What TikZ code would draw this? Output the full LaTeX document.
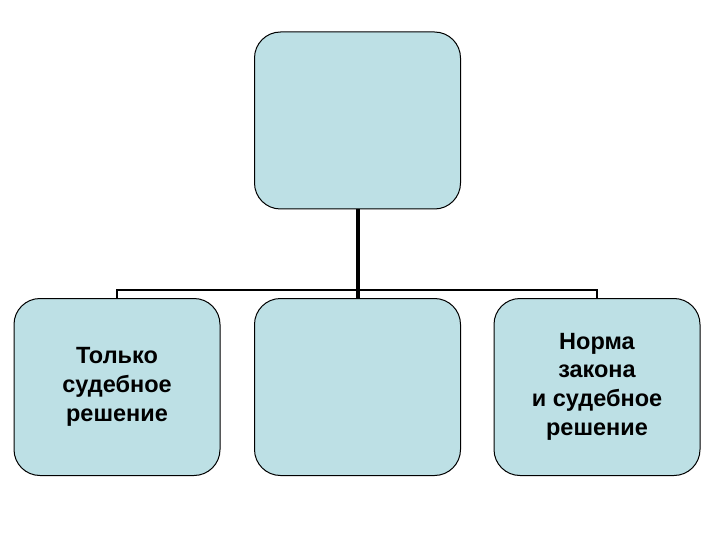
\documentclass[tikz,border=0pt]{standalone}
\usepackage{fontspec}
\setmainfont{Liberation Sans}
\begin{document}
\begin{tikzpicture}[x=1pt,y=-1pt,
  box/.style={draw=black,line width=1pt,fill=boxfill,rounded corners=26pt,minimum width=206pt,minimum height=177pt,inner sep=0pt,align=center,font=\fontsize{23.5}{28.7}\selectfont\bfseries},
  conn/.style={draw=black,line width=2.6pt}]
\definecolor{boxfill}{HTML}{BDE0E5}
\useasboundingbox (0,0) rectangle (720,540);
\node[box] (top) at (357.5,120.5) {};
\node[box] (left) at (117,387) {Только\\судебное\\решение};
\node[box] (mid) at (357.5,387) {};
\node[box,text depth=6pt] (right) at (597,387) {Норма\\закона\\и судебное\\решение};
\coordinate (hl) at (left.north |- 0,290);
\coordinate (hr) at (right.north |- 0,290);
\draw[conn] (left.north) -- (hl) -- (hr) -- (right.north);
\draw[draw=black,line width=4pt] (top.south) -- (mid.north);
\end{tikzpicture}
\end{document}
